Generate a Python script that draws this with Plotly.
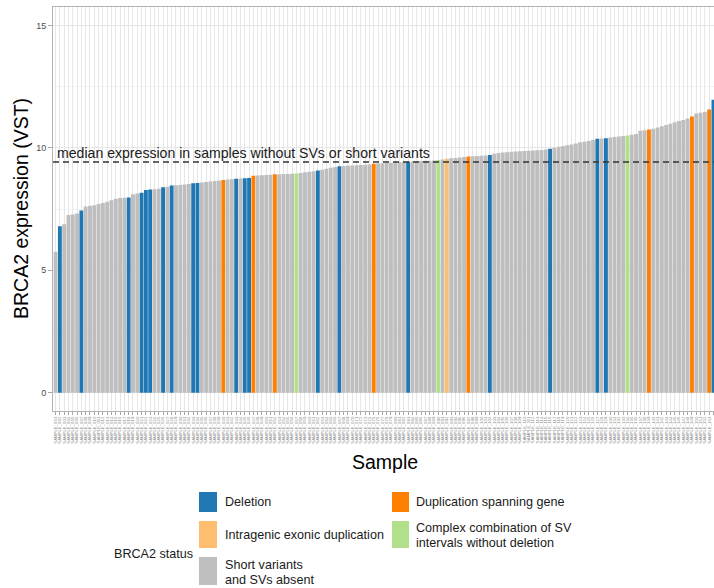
import plotly.graph_objects as go

# ---- data ----
brca2_vst = [
    5.75, 6.80, 6.88, 7.25, 7.28, 7.32, 7.44, 7.60, 7.63, 7.65,
    7.70, 7.74, 7.80, 7.86, 7.92, 7.95, 7.96, 7.97, 8.10, 8.13,
    8.16, 8.28, 8.30, 8.31, 8.33, 8.39, 8.41, 8.46, 8.47, 8.48,
    8.50, 8.52, 8.55, 8.56, 8.58, 8.60, 8.62, 8.64, 8.66, 8.68,
    8.70, 8.72, 8.74, 8.75, 8.76, 8.77, 8.86, 8.87, 8.88, 8.89,
    8.90, 8.92, 8.92, 8.93, 8.93, 8.94, 8.95, 8.97, 9.00, 9.02,
    9.04, 9.07, 9.10, 9.14, 9.18, 9.21, 9.25, 9.26, 9.27, 9.28,
    9.29, 9.30, 9.31, 9.32, 9.35, 9.36, 9.37, 9.38, 9.39, 9.40,
    9.41, 9.42, 9.43, 9.44, 9.45, 9.46, 9.47, 9.47, 9.48, 9.50,
    9.52, 9.55, 9.57, 9.58, 9.60, 9.62, 9.64, 9.65, 9.66, 9.67,
    9.69, 9.71, 9.76, 9.79, 9.81, 9.82, 9.84, 9.85, 9.86, 9.87,
    9.88, 9.89, 9.90, 9.91, 9.93, 9.96, 10.00, 10.04, 10.07, 10.10,
    10.13, 10.18, 10.23, 10.25, 10.28, 10.32, 10.37, 10.38, 10.39, 10.42,
    10.44, 10.46, 10.48, 10.50, 10.53, 10.56, 10.70, 10.72, 10.75, 10.78,
    10.83, 10.88, 10.93, 10.98, 11.04, 11.09, 11.14, 11.20, 11.28, 11.40,
    11.43, 11.46, 11.56, 11.96,
]
deletion_idx = [1, 6, 17, 20, 21, 22, 25, 27, 32, 33, 42, 44, 45, 61, 66, 82,
                101, 115, 126, 128, 153]
dup_spanning_idx = [39, 46, 51, 74, 96, 138, 148, 152]
intragenic_dup_idx = [91]
complex_idx = [56, 89, 133]
median_no_sv = 9.42
sample_ids = [f"SAMPLE_{i + 1:03d}" for i in range(len(brca2_vst))]

status_names = {
    "del": "Deletion",
    "dup": "Duplication spanning gene",
    "intra": "Intragenic exonic duplication",
    "complex": "Complex combination of SV intervals without deletion",
    "none": "Short variants and SVs absent",
}
status_colors = {
    "del": "#1F78B4",
    "dup": "#FF7F00",
    "intra": "#FDBF6F",
    "complex": "#B2DF8A",
    "none": "#BEBEBE",
}

status = ["none"] * len(brca2_vst)
for i in deletion_idx:
    status[i] = "del"
for i in dup_spanning_idx:
    status[i] = "dup"
for i in intragenic_dup_idx:
    status[i] = "intra"
for i in complex_idx:
    status[i] = "complex"

x_pos = list(range(len(brca2_vst)))

# ---- layout geometry (pixels) ----
W, H = 714, 588
PL, PR, PT, PB = 53, 714, 7, 411
FONT = "Liberation Sans, Arial, Helvetica, sans-serif"


def pxx(x):
    return (x - PL) / (PR - PL)


def pxy(y):
    return (PB - y) / (PB - PT)


fig = go.Figure()
fig.add_trace(go.Bar(
    x=x_pos,
    y=brca2_vst,
    marker=dict(color=[status_colors[s] for s in status], line=dict(width=0)),
    width=0.9,
    customdata=[status_names[s] for s in status],
    hovertemplate="%{text}<br>%{customdata}<br>%{y:.2f}<extra></extra>",
    text=sample_ids,
    textposition="none",
    showlegend=False,
))

shapes = [
    dict(type="line", xref="paper", yref="y", x0=0, x1=1,
         y0=median_no_sv, y1=median_no_sv,
         line=dict(color="#333333", width=1.5, dash="6px,4px"), layer="above"),
]
annotations = [
    dict(text="median expression in samples without SVs or short variants",
         xref="paper", yref="y", x=0, y=9.77, xanchor="left", yanchor="middle",
         xshift=2, showarrow=False, font=dict(family=FONT, size=14.1, color="#1A1A1A")),
    dict(text="BRCA2 expression (VST)", xref="paper", yref="paper",
         x=pxx(21), y=0.5, xanchor="center", yanchor="middle", textangle=-90,
         showarrow=False, font=dict(family=FONT, size=19.5, color="#000000")),
    dict(text="Sample", xref="paper", yref="paper", x=pxx(385), y=pxy(462),
         xanchor="center", yanchor="middle", showarrow=False,
         font=dict(family=FONT, size=19.5, color="#000000")),
    dict(text="BRCA2 status", xref="paper", yref="paper", x=pxx(112), y=pxy(554),
         xanchor="left", yanchor="middle", showarrow=False,
         font=dict(family=FONT, size=12.6, color="#1A1A1A")),
]

# legend keys (x0, y0, x1, y1 in pixels) and label lines
legend_items = [
    ("del", (199, 492, 217, 512), 224, [("Deletion", 502)]),
    ("intra", (199, 521, 217, 548), 224, [("Intragenic exonic duplication", 535)]),
    ("none", (199, 557, 217, 585), 224, [("Short variants", 565), ("and SVs absent", 579.5)]),
    ("dup", (392, 492, 409, 512), 415, [("Duplication spanning gene", 502)]),
    ("complex", (392, 521, 409, 548), 415,
     [("Complex combination of SV", 528.3), ("intervals without deletion", 542.7)]),
]
for key, (x0, y0, x1, y1), tx, lines in legend_items:
    shapes.append(dict(type="rect", xref="paper", yref="paper",
                       x0=pxx(x0), x1=pxx(x1), y0=pxy(y1), y1=pxy(y0),
                       fillcolor=status_colors[key], line=dict(width=0)))
    for txt, ty in lines:
        annotations.append(dict(text=txt, xref="paper", yref="paper",
                                x=pxx(tx - 1), y=pxy(ty), xanchor="left",
                                yanchor="middle", showarrow=False,
                                font=dict(family=FONT, size=12.6, color="#1A1A1A")))

fig.update_layout(
    width=W, height=H,
    margin=dict(l=PL, r=W - PR, t=PT, b=H - PB, pad=0),
    paper_bgcolor="white", plot_bgcolor="white",
    barmode="overlay", bargap=0.1,
    font=dict(family=FONT),
    shapes=shapes, annotations=annotations,
    showlegend=False,
    xaxis=dict(
        range=[-0.6, 153.13],
        tickmode="array", tickvals=x_pos, ticktext=sample_ids,
        tickangle=-90, tickfont=dict(size=4.3, color="#8C8C8C", family=FONT),
        ticks="outside", ticklen=3, tickcolor="#A6A6A6", tickwidth=1,
        showgrid=True, gridcolor="#E6E6E6", gridwidth=1,
        showline=True, mirror=True, linecolor="#B3B3B3", linewidth=1,
        zeroline=False, automargin=False, fixedrange=True,
    ),
    yaxis=dict(
        range=[-0.75, 15.75],
        tickmode="array", tickvals=[0, 5, 10, 15], ticktext=["0", "5", "10", "15"],
        tickfont=dict(size=9, color="#4D4D4D", family=FONT),
        ticks="outside", ticklen=4, tickcolor="#A6A6A6", tickwidth=1,
        showgrid=True, gridcolor="#E6E6E6", gridwidth=1,
        minor=dict(tickvals=[2.5, 7.5, 12.5], showgrid=True, gridcolor="#F2F2F2",
                   gridwidth=1, ticks=""),
        showline=True, mirror=False, linecolor="#B3B3B3", linewidth=1,
        zeroline=False, automargin=False, fixedrange=True,
    ),
)

fig.write_html(
    "out.html",
    config={"displayModeBar": False},
    post_script="document.body.style.margin='0';document.body.style.overflow='hidden';",
)
